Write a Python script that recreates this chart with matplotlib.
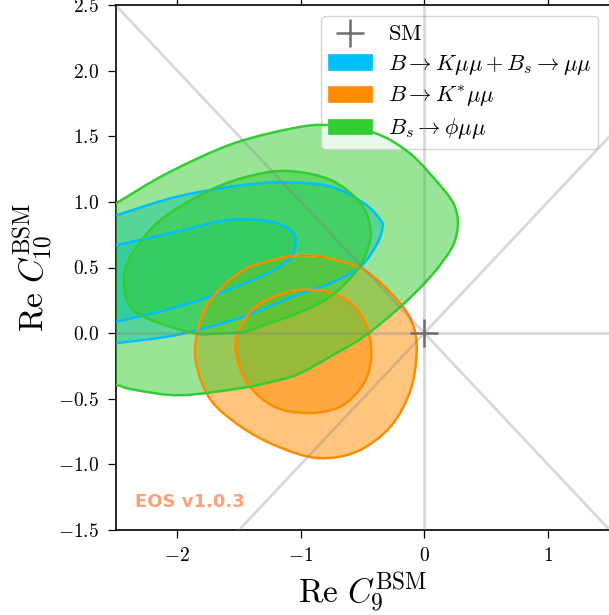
import numpy as np
import matplotlib
matplotlib.use("Agg")
import matplotlib.pyplot as plt
from matplotlib.path import Path
from matplotlib.patches import PathPatch, Patch
from matplotlib.lines import Line2D
from matplotlib.ticker import FuncFormatter, FixedLocator

plt.rcParams['mathtext.fontset'] = 'cm'
plt.rcParams['font.family'] = ['DejaVu Serif']

# ---- data: contour boundaries (C9, C10) ----
# B -> K mu mu + Bs -> mu mu
blue_outer_x = [-2.65, -2.486, -2.0, -1.461, -1.10, -0.759, -0.489, -0.354, -0.340, -0.381, -0.516, -0.759, -1.028, -1.461, -2.0, -2.486, -2.65, -2.72]
blue_outer_y = [0.85, 0.900, 1.04, 1.129, 1.148, 1.116, 0.989, 0.862, 0.799, 0.685, 0.507, 0.380, 0.291, 0.126, -0.013, -0.076, -0.10, 0.40]
blue_inner_x = [-2.65, -2.486, -2.0, -1.595, -1.245, -1.069, -1.042, -1.109, -1.326, -1.730, -2.135, -2.486, -2.65, -2.72]
blue_inner_y = [0.64, 0.672, 0.773, 0.862, 0.849, 0.773, 0.672, 0.545, 0.431, 0.279, 0.165, 0.089, 0.06, 0.35]
# B -> K* mu mu
orange_outer_x = [-1.164, -1.0, -0.80, -0.489, -0.219, -0.097, -0.062, -0.111, -0.273, -0.543, -0.860, -1.190, -1.487, -1.730, -1.845, -1.840, -1.730, -1.461]
orange_outer_y = [0.571, 0.592, 0.575, 0.482, 0.253, 0.076, -0.127, -0.432, -0.711, -0.901, -0.952, -0.863, -0.711, -0.508, -0.240, -0.010, 0.253, 0.482]
orange_inner_x = [-1.002, -0.678, -0.489, -0.429, -0.489, -0.678, -0.947, -1.218, -1.433, -1.528, -1.487, -1.326]
orange_inner_y = [0.330, 0.279, 0.101, -0.152, -0.381, -0.559, -0.609, -0.559, -0.381, -0.127, 0.050, 0.228]
# Bs -> phi mu mu
green_outer_x = [-2.494, -2.081, -1.542, -1.002, -0.732, -0.55, -0.327, -0.19, -0.057, 0.159, 0.240, 0.270, 0.262, 0.213, 0.051, -0.192, -0.489, -0.759, -1.002, -1.164, -1.487, -1.980, -2.351, -2.494, -2.65, -2.75, -2.65]
green_outer_y = [0.989, 1.218, 1.446, 1.572, 1.585, 1.570, 1.496, 1.420, 1.319, 1.091, 0.980, 0.870, 0.760, 0.634, 0.431, 0.202, -0.026, -0.178, -0.304, -0.355, -0.419, -0.473, -0.431, -0.393, -0.36, 0.30, 0.90]
green_inner_x = [-1.730, -1.40, -1.10, -0.759, -0.516, -0.435, -0.462, -0.543, -0.759, -1.028, -1.30, -1.461, -1.70, -1.866, -2.216, -2.378, -2.432, -2.378, -2.135]
green_inner_y = [1.091, 1.200, 1.235, 1.167, 0.989, 0.786, 0.634, 0.482, 0.279, 0.152, 0.060, 0.010, -0.005, 0.000, 0.101, 0.202, 0.380, 0.583, 0.862]

labels = [r'$B\to K\mu\mu + B_s\to\mu\mu$', r'$B\to K^{*}\mu\mu$', r'$B_s\to\phi\mu\mu$']
colors = ['#00bfff', '#ff8c00', '#32cd32']
xticks = [-2, -1, 0, 1]
yticks = [-1.5, -1.0, -0.5, 0.0, 0.5, 1.0, 1.5, 2.0, 2.5]
sm_point = (0.0, 0.0)


def smooth_closed_path(xs, ys):
    pts = np.column_stack([xs, ys]).astype(float)
    n = len(pts)
    verts = [pts[0]]
    codes = [Path.MOVETO]
    for i in range(n):
        p0 = pts[i - 1]
        p1 = pts[i]
        p2 = pts[(i + 1) % n]
        p3 = pts[(i + 2) % n]
        c1 = p1 + (p2 - p0) / 6.0
        c2 = p2 - (p3 - p1) / 6.0
        verts += [c1, c2, p2]
        codes += [Path.CURVE4] * 3
    return Path(verts, codes)


fig = plt.figure(figsize=(6.09, 6.15), dpi=100)
ax = fig.add_axes([115.5 / 609, 85 / 615, (609.7 - 115.5) / 609, 525 / 615])
ax.set_xlim(-2.5, 1.5)
ax.set_ylim(-1.5, 2.5)

regions = [
    (blue_outer_x, blue_outer_y, blue_inner_x, blue_inner_y),
    (orange_outer_x, orange_outer_y, orange_inner_x, orange_inner_y),
    (green_outer_x, green_outer_y, green_inner_x, green_inner_y),
]
z = 2
for (ox, oy, ix, iy), c in zip(regions, colors):
    po = smooth_closed_path(ox, oy)
    pi = smooth_closed_path(ix, iy)
    ax.add_patch(PathPatch(po, facecolor=c, alpha=0.5, edgecolor='none', zorder=z))
    ax.add_patch(PathPatch(pi, facecolor=c, alpha=0.5, edgecolor='none', zorder=z))
    ax.add_patch(PathPatch(po, fill=False, edgecolor=c, lw=1.8, zorder=6 + z * 0.1))
    ax.add_patch(PathPatch(pi, fill=False, edgecolor=c, lw=1.8, zorder=6 + z * 0.1))
    z += 1

# reference lines
line_kw = dict(color='grey', alpha=0.3, lw=2.0, zorder=10)
ax.axhline(0, **line_kw)
ax.axvline(0, **line_kw)
ax.plot([-3, 3], [-3, 3], **line_kw)
ax.plot([-3, 3], [3, -3], **line_kw)

ax.plot([sm_point[0]], [sm_point[1]], marker='+', color='#6e6e6e', ms=20, mew=1.8,
        linestyle='none', zorder=11)

ax.xaxis.set_major_locator(FixedLocator(xticks))
ax.yaxis.set_major_locator(FixedLocator(yticks))
ax.xaxis.set_major_formatter(FuncFormatter(lambda v, p: r'$%d$' % int(round(v))))
ax.yaxis.set_major_formatter(FuncFormatter(lambda v, p: r'$%.1f$' % v))
ax.tick_params(direction='out', length=6, width=0.9, labelsize=14, top=True, pad=6)
for s in ax.spines.values():
    s.set_linewidth(1.2)

ax.set_xlabel(r'$\mathrm{Re}\ C_9^{\mathrm{BSM}}$', fontsize=24, labelpad=4)
ax.set_ylabel(r'$\mathrm{Re}\ C_{10}^{\mathrm{BSM}}$', fontsize=24, labelpad=2)

handles = [Line2D([], [], marker='+', color='#6e6e6e', ms=20, mew=1.8, linestyle='none')]
handles += [Patch(facecolor=c, edgecolor=c, alpha=1.0, lw=0.5) for c in colors]
ax.legend(handles, [r'$\mathrm{SM}$'] + labels, loc='upper right', fontsize=16.2,
          handlelength=1.95, handletextpad=0.69, labelspacing=0.32, borderpad=0.32,
          framealpha=0.8, borderaxespad=0.5)

ax.text(0.04, 0.044, 'EOS v1.0.3', transform=ax.transAxes, fontsize=13,
        fontweight='bold', color='#ffa07a', family='DejaVu Sans', va='baseline', ha='left')

fig.savefig('out.png', dpi=100)
